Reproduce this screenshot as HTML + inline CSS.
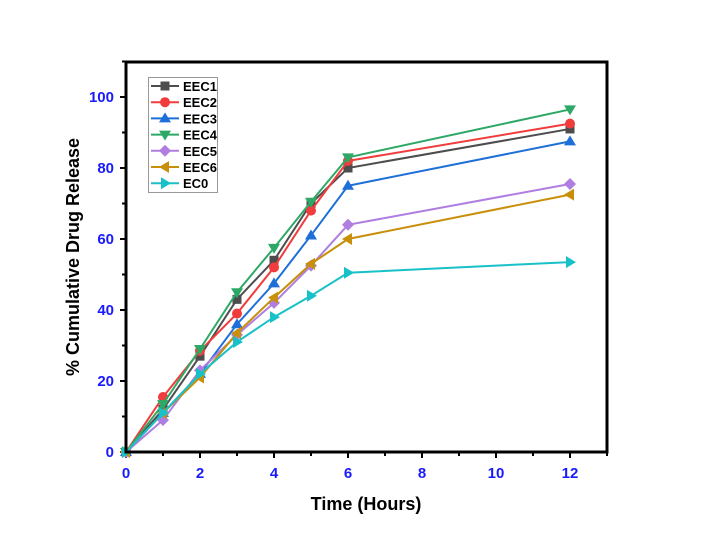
<!DOCTYPE html>
<html><head><meta charset="utf-8"><style>
html,body{margin:0;padding:0;background:#fff;}
svg{display:block;font-family:"Liberation Sans",Arial,sans-serif;}
</style></head><body>
<svg id="s" width="706" height="542" xmlns="http://www.w3.org/2000/svg"></svg>
<script>
const s=document.getElementById('s');
const X=v=>126+v*37, Y=v=>452-v*3.55;
let h='';
const series=[
['EEC1','#4d4d4d','sq',[0,12,27,43,54,70,80,91]],
['EEC2','#f03c3c','ci',[0,15.5,28.5,39,52,68,82,92.5]],
['EEC3','#1f6fd8','up',[0,11,22,36,47.5,61,75,87.5]],
['EEC4','#2ea866','dn',[0,13.5,29,45,57.5,70.5,83,96.5]],
['EEC5','#b07ee0','di',[0,9,23,33,42,52.5,64,75.5]],
['EEC6','#c8900a','lt',[0,11,21,33.5,43.5,53,60,72.5]],
['EC0','#18c0c8','rt',[0,11,22,31,38,44,50.5,53.5]]];
const xs=[0,1,2,3,4,5,6,12];
function mk(t,x,y,c){const r=5;
 if(t=='sq')return `<rect x="${x-4.5}" y="${y-4.5}" width="9" height="9" fill="${c}"/>`;
 if(t=='ci')return `<circle cx="${x}" cy="${y}" r="5" fill="${c}"/>`;
 if(t=='up')return `<polygon points="${x},${y-6} ${x-6},${y+4} ${x+6},${y+4}" fill="${c}"/>`;
 if(t=='dn')return `<polygon points="${x},${y+6} ${x-6},${y-4} ${x+6},${y-4}" fill="${c}"/>`;
 if(t=='di')return `<polygon points="${x},${y-6} ${x+6},${y} ${x},${y+6} ${x-6},${y}" fill="${c}"/>`;
 if(t=='lt')return `<polygon points="${x-6},${y} ${x+4},${y-6} ${x+4},${y+6}" fill="${c}"/>`;
 return `<polygon points="${x+6},${y} ${x-4},${y-6} ${x-4},${y+6}" fill="${c}"/>`;}
// ticks
for(let i=0;i<=13;i++){const x=X(i);h+=`<line x1="${x}" y1="452" x2="${x}" y2="${i%2?456:458}" stroke="#000" stroke-width="2"/>`;
 if(i%2==0)h+=`<text x="${x}" y="478" font-size="15" font-weight="bold" fill="#1a1aff" text-anchor="middle">${i}</text>`;}
for(let v=0;v<=110;v+=10){const y=Y(v);h+=`<line x1="126" y1="${y}" x2="${v%20?122:120}" y2="${y}" stroke="#000" stroke-width="2"/>`;
 if(v%20==0&&v<=100)h+=`<text x="114" y="${y+5}" font-size="15" font-weight="bold" fill="#1a1aff" text-anchor="end">${v}</text>`;}
series.forEach(([n,c,t,d])=>{h+=`<polyline fill="none" stroke="${c}" stroke-width="2" points="${xs.map((x,i)=>X(x)+','+Y(d[i])).join(' ')}"/>`;
 xs.forEach((x,i)=>h+=mk(t,X(x),Y(d[i]),c));});
h+=`<rect x="126" y="62" width="481" height="390" fill="none" stroke="#000" stroke-width="3"/>`;
h+=`<rect x="148.5" y="77.5" width="69" height="115" fill="#fff" stroke="#999" stroke-width="1"/>`;
series.forEach(([n,c,t],i)=>{const y=86+i*16.2;h+=`<line x1="151" y1="${y}" x2="179" y2="${y}" stroke="${c}" stroke-width="2"/>`+mk(t,165,y,c)+`<text x="183" y="${y+5}" font-size="13" font-weight="bold">${n}</text>`;});
h+=`<text x="366" y="510" font-size="18" font-weight="bold" text-anchor="middle">Time (Hours)</text>`;
h+=`<text transform="translate(79,257) rotate(-90)" font-size="18" font-weight="bold" text-anchor="middle">% Cumulative Drug Release</text>`;
s.innerHTML=h;
</script>
</body></html>
